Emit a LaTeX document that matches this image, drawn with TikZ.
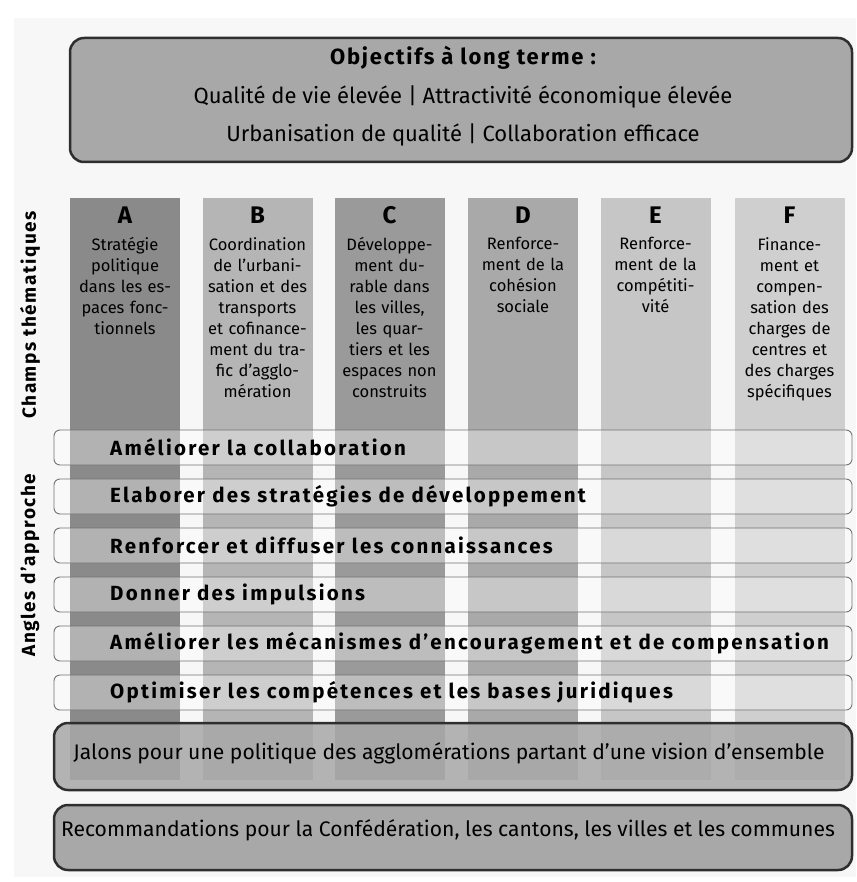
\documentclass[tikz,border=0pt]{standalone}
\usepackage{fontspec}
\setmainfont{Fira Sans}
\newfontfamily\bandfont[LetterSpace=11]{Fira Sans}
\newfontfamily\titlefont[LetterSpace=8]{Fira Sans}
\newfontfamily\sidefont[LetterSpace=8]{Fira Sans}
\usetikzlibrary{positioning}
\definecolor{colA}{HTML}{8A8A8A}
\definecolor{colB}{HTML}{B5B5B5}
\definecolor{colC}{HTML}{9A9A9A}
\definecolor{colD}{HTML}{A9A9A9}
\definecolor{colE}{HTML}{C6C6C6}
\definecolor{colF}{HTML}{CFCFCF}
\definecolor{boxfill}{HTML}{A8A8A8}
\definecolor{boxline}{HTML}{2E2E2E}
\tikzset{
  x=1pt, y=-1pt,
  bigbox/.style={draw=boxline, line width=2.5pt, fill=boxfill, rounded corners=14pt, inner sep=0pt},
  colbar/.style={inner sep=0pt, minimum width=110pt, minimum height=582pt, anchor=north},
  colhead/.style={font=\fontsize{24}{26}\selectfont\bfseries, inner sep=0pt},
  coltext/.style={font=\fontsize{16.5}{21}\selectfont, text width=116pt, align=center, anchor=north, inner sep=0pt},
  band/.style={draw=black!55, line width=0.9pt, fill=white, fill opacity=0.35, text opacity=1, rounded corners=6pt, minimum width=798pt, minimum height=35pt, inner sep=0pt},
  bandtext/.style={font=\bandfont\fontsize{20.5}{22}\selectfont\bfseries, anchor=west, inner sep=0pt},
  sidelabel/.style={font=\sidefont\fontsize{19}{21}\selectfont\bfseries, rotate=90, inner sep=0pt},
  boxtext/.style={font=\fontsize{22}{24}\selectfont, inner sep=0pt},
  lowtext/.style={font=\fontsize{21.1}{24}\selectfont, inner sep=0pt},
}
\begin{document}
\begin{tikzpicture}
\useasboundingbox (0,0) rectangle (856,882);
\fill[white] (0,0) rectangle (856,882);
\fill[black!3] (14,18) rectangle (856,877);

% top box
\node[bigbox, minimum width=782pt, minimum height=124pt] (obj) at (461,100) {};
\node[font=\titlefont\fontsize{22}{24}\selectfont\bfseries, inner sep=0pt] (objt) at (463,58) {Objectifs à long terme :};
\node[boxtext] (obj1) at (463,97) {Qualité de vie élevée | Attractivité économique élevée};
\node[boxtext] (obj2) at (463,135) {Urbanisation de qualité | Collaboration efficace};

% columns
\node[colbar, fill=colA] (cA) at (125,198) {};
\node[colbar, fill=colB] (cB) at (257.5,198) {};
\node[colbar, fill=colC] (cC) at (389.5,198) {};
\node[colbar, fill=colD] (cD) at (523,198) {};
\node[colbar, fill=colE] (cE) at (655.5,198) {};
\node[colbar, fill=colF] (cF) at (789.5,198) {};

\node[colhead] (hA) at (125,215) {A};
\node[colhead] (hB) at (257.5,215) {B};
\node[colhead] (hC) at (389.5,215) {C};
\node[colhead] (hD) at (523,215) {D};
\node[colhead] (hE) at (655.5,215) {E};
\node[colhead] (hF) at (789.5,215) {F};

\node[coltext] (tA) at (125,237) {Stratégie\\politique\\dans les es-\\paces fonc-\\tionnels};
\node[coltext] (tB) at (257.5,237) {Coordination\\de l’urbani-\\sation et des\\transports\\et cofinance-\\ment du tra-\\fic d’agglo-\\mération};
\node[coltext] (tC) at (389.5,237) {Développe-\\ment du-\\rable dans\\les villes,\\les quar-\\tiers et les\\espaces non\\construits};
\node[coltext] (tD) at (523,237) {Renforce-\\ment de la\\cohésion\\sociale};
\node[coltext] (tE) at (655.5,237) {Renforce-\\ment de la\\compétiti-\\vité};
\node[coltext] (tF) at (789.5,237) {Finance-\\ment et\\compen-\\sation des\\charges de\\centres et\\des charges\\spécifiques};

% bands
\node[band] (b1) at (453,447.5) {};
\node[band] (b2) at (453,496.5) {};
\node[band] (b3) at (453,545.5) {};
\node[band] (b4) at (453,594.5) {};
\node[band] (b5) at (453,643.5) {};
\node[band] (b6) at (453,692.5) {};
\node[bandtext] (bt1) at (110,447.5) {Améliorer la collaboration};
\node[bandtext] (bt2) at (110,496.5) {Elaborer des stratégies de développement};
\node[bandtext] (bt3) at (110,545.5) {Renforcer et diffuser les connaissances};
\node[bandtext] (bt4) at (110,594.5) {Donner des impulsions};
\node[bandtext] (bt5) at (110,643.5) {Améliorer les mécanismes d’encouragement et de compensation};
\node[bandtext] (bt6) at (110,692.5) {Optimiser les compétences et les bases juridiques};

% side labels
\node[sidelabel] (s1) at (30,315) {Champs thématiques};
\node[sidelabel] (s2) at (30,565) {Angles d’approche};

% bottom boxes
\node[bigbox, fill opacity=0.85, text opacity=1, minimum width=798pt, minimum height=67pt] (jal) at (453,756.5) {};
\node[lowtext] (jalt) at (449,753) {Jalons pour une politique des agglomérations partant d’une vision d’ensemble};
\node[bigbox, minimum width=798pt, minimum height=65pt] (rec) at (453,837.5) {};
\node[lowtext] (rect) at (448,830) {Recommandations pour la Confédération, les cantons, les villes et les communes};
\end{tikzpicture}
\end{document}
